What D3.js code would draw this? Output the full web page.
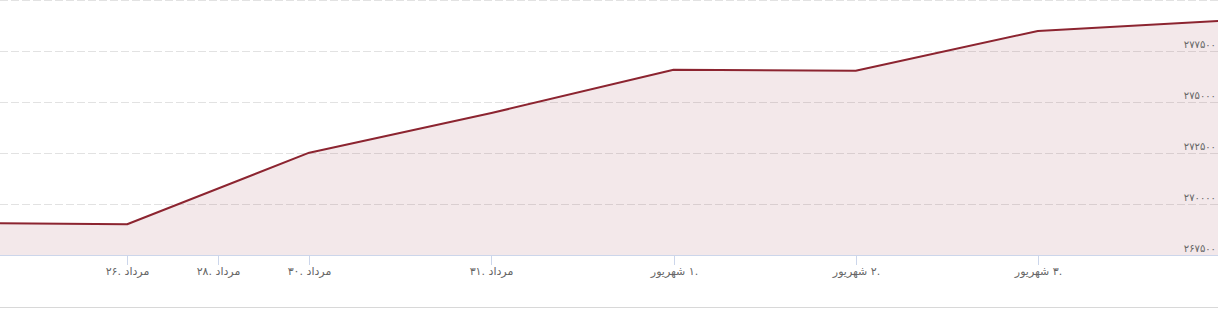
<!DOCTYPE html>
<html>
<head>
<meta charset="utf-8">
<script src="https://cdn.jsdelivr.net/npm/d3@7"></script>
<style>
  body { margin: 0; background: #fff; }
  svg { display: block; }
</style>
</head>
<body>
<div id="chart"></div>
<script>
// day numbers counted from 1 Mordad (1 Shahrivar = 32)
const pointDays = [25, 26, 30, 31, 32, 33, 34, 35];
const prices = [269070, 269005, 272515, 274460, 276580, 276535, 278480, 278975];

const tickDays = [26, 28, 30, 31, 32, 33, 34];
const tickLabels = ['۲۶. مرداد', '۲۸. مرداد', '۳۰. مرداد', '۳۱. مرداد',
  'شهریور\u200E ۱.', 'شهریور\u200E ۲.', 'شهریور\u200E ۳.'];

const yTicks = [267500, 270000, 272500, 275000, 277500, 280000];
const yLabels = ['۲۶۷۵۰۰', '۲۷۰۰۰۰', '۲۷۲۵۰۰', '۲۷۵۰۰۰', '۲۷۷۵۰۰', ''];

const width = 1218, height = 309;
const plotH = 255;

const svg = d3.select('#chart').append('svg')
  .attr('width', width)
  .attr('height', height)
  .style('font-family', '"DejaVu Sans", sans-serif');

// ordinal-like x: points evenly spaced, days in between interpolated
const dayToIndex = d3.scaleLinear().domain(pointDays).range(d3.range(pointDays.length));
const indexToX = d3.scaleLinear().domain([0, pointDays.length - 1]).range([-55, 1220]);
const x = d => indexToX(dayToIndex(d));

const y = d3.scaleLinear().domain([267500, 280000]).range([plotH, 0]);

svg.append('defs').append('clipPath').attr('id', 'plot')
  .append('rect').attr('x', 0).attr('y', 0).attr('width', width).attr('height', plotH);

// grid
svg.append('g').selectAll('line')
  .data(yTicks.slice(1))
  .enter().append('line')
  .attr('x1', 0).attr('x2', width)
  .attr('y1', d => Math.round(y(d)) + 0.5)
  .attr('y2', d => Math.round(y(d)) + 0.5)
  .attr('stroke', '#e2e2e2')
  .attr('stroke-dasharray', '8,3');

const pts = pointDays.map((d, i) => [d, prices[i]]);

const plot = svg.append('g').attr('clip-path', 'url(#plot)');

plot.append('path')
  .datum(pts)
  .attr('fill', 'rgba(140, 30, 50, 0.1)')
  .attr('d', d3.area().x(d => x(d[0])).y0(plotH).y1(d => y(d[1])));

plot.append('path')
  .datum(pts)
  .attr('fill', 'none')
  .attr('stroke', '#8c2430')
  .attr('stroke-width', 2)
  .attr('stroke-linejoin', 'round')
  .attr('d', d3.line().x(d => x(d[0])).y(d => y(d[1])));

// y labels inside plot, right side
svg.append('g').selectAll('text')
  .data(yTicks)
  .enter().append('text')
  .attr('x', width - 2)
  .attr('y', d => y(d) - 3)
  .attr('text-anchor', 'end')
  .attr('fill', '#666')
  .style('font-size', '10px')
  .text((d, i) => yLabels[i]);

// x axis
const xAxis = svg.append('g');
xAxis.append('line')
  .attr('x1', 0).attr('x2', width)
  .attr('y1', plotH + 0.5).attr('y2', plotH + 0.5)
  .attr('stroke', '#ccd6eb');

const ticks = xAxis.selectAll('g.tick')
  .data(tickDays)
  .enter().append('g')
  .attr('class', 'tick')
  .attr('transform', d => 'translate(' + (Math.round(x(d)) + 0.5) + ',0)');

ticks.append('line')
  .attr('y1', plotH).attr('y2', plotH + 10)
  .attr('stroke', '#ccd6eb');

ticks.append('text')
  .attr('y', plotH + 20)
  .attr('text-anchor', 'middle')
  .attr('fill', '#666')
  .style('font-size', '11px')
  .text((d, i) => tickLabels[i]);

// bottom border
svg.append('line')
  .attr('x1', 0).attr('x2', width)
  .attr('y1', 307.5).attr('y2', 307.5)
  .attr('stroke', '#d8d8d8');
</script>
</body>
</html>
